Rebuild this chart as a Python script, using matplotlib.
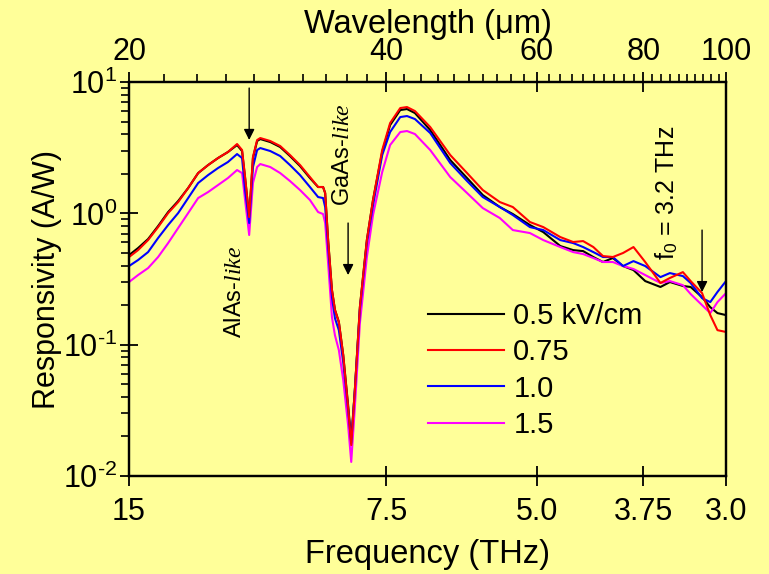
import matplotlib
matplotlib.use("Agg")
import matplotlib.pyplot as plt
from matplotlib.ticker import FixedLocator, FixedFormatter, NullLocator, NullFormatter, LogLocator

plt.rcParams['font.family'] = ['Liberation Sans', 'DejaVu Sans']
plt.rcParams['mathtext.fontset'] = 'custom'
plt.rcParams['mathtext.rm'] = 'Liberation Sans'
plt.rcParams['mathtext.it'] = 'Liberation Serif:italic'
plt.rcParams['mathtext.bf'] = 'Liberation Sans:bold'

# ---------------- Daten ----------------
freq = [15.0, 14.64, 14.25, 13.87, 13.50, 13.14, 12.79, 12.45, 12.12, 11.80,
        11.49, 11.21, 11.06, 10.97, 10.85, 10.74, 10.62, 10.53, 10.25, 9.98,
        9.72, 9.46, 9.21, 9.01, 8.89, 8.84, 8.77, 8.68, 8.61, 8.52,
        8.42, 8.31, 8.24, 8.16, 8.05, 7.90, 7.77, 7.58, 7.42, 7.22,
        7.09, 6.94, 6.66, 6.31, 6.03, 5.78, 5.52, 5.33, 5.09, 4.91,
        4.69, 4.53, 4.41, 4.29, 4.18, 4.07, 3.96, 3.85, 3.73, 3.58,
        3.49, 3.37, 3.30, 3.20, 3.13, 3.07, 3.00]

# 0.5 kV/cm
resp_05 = [0.481, 0.544, 0.637, 0.800, 1.023, 1.241, 1.559, 2.027, 2.333, 2.638,
           2.930, 3.313, 2.982, 1.857, 0.937, 2.638, 3.554, 3.680, 3.492, 3.199,
           2.732, 2.292, 1.857, 1.587, 1.587, 1.428, 0.626, 0.261, 0.184, 0.149,
           0.0833, 0.0347, 0.0188, 0.0451, 0.193, 0.626, 1.263, 2.930, 4.704, 6.119,
           6.227, 5.805, 4.310, 2.547, 1.857, 1.379, 1.117, 0.988, 0.815, 0.720,
           0.564, 0.525, 0.516, 0.465, 0.426, 0.457, 0.397, 0.370, 0.305, 0.275,
           0.300, 0.280, 0.275, 0.230, 0.193, 0.174, 0.168]
# 0.75 kV/cm
resp_075 = [0.465, 0.525, 0.626, 0.786, 1.005, 1.219, 1.559, 2.027, 2.333, 2.638,
            2.930, 3.372, 3.035, 1.890, 0.937, 2.684, 3.617, 3.746, 3.554, 3.256,
            2.780, 2.333, 1.890, 1.587, 1.587, 1.428, 0.626, 0.261, 0.184, 0.149,
            0.0833, 0.0335, 0.0172, 0.0451, 0.193, 0.626, 1.263, 3.035, 4.872, 6.337,
            6.449, 6.013, 4.542, 2.780, 2.027, 1.505, 1.219, 1.117, 0.859, 0.786,
            0.660, 0.605, 0.615, 0.554, 0.473, 0.465, 0.499, 0.554, 0.426, 0.295,
            0.322, 0.357, 0.305, 0.247, 0.168, 0.129, 0.125]
# 1.0 kV/cm
resp_10 = [0.397, 0.441, 0.507, 0.649, 0.815, 1.005, 1.308, 1.702, 1.957, 2.214,
           2.459, 2.829, 2.638, 1.505, 0.844, 2.253, 3.035, 3.143, 2.982, 2.732,
           2.333, 1.957, 1.587, 1.331, 1.308, 1.117, 0.554, 0.230, 0.159, 0.129,
           0.0737, 0.0318, 0.0178, 0.0451, 0.184, 0.594, 1.157, 2.780, 4.161, 5.412,
           5.508, 5.226, 4.089, 2.416, 1.763, 1.331, 1.117, 0.971, 0.786, 0.746,
           0.626, 0.594, 0.554, 0.507, 0.465, 0.465, 0.397, 0.433, 0.397, 0.327,
           0.351, 0.333, 0.295, 0.226, 0.211, 0.252, 0.305]
# 1.5 kV/cm
resp_15 = [0.300, 0.339, 0.383, 0.465, 0.594, 0.773, 1.005, 1.308, 1.453, 1.643,
           1.857, 2.137, 2.027, 1.263, 0.684, 1.702, 2.253, 2.374, 2.253, 2.027,
           1.763, 1.505, 1.263, 1.023, 0.988, 0.844, 0.418, 0.162, 0.118, 0.091,
           0.0538, 0.0244, 0.0128, 0.0335, 0.146, 0.465, 0.971, 2.063, 3.313, 4.161,
           4.235, 4.017, 3.035, 1.890, 1.428, 1.097, 0.921, 0.746, 0.708, 0.626,
           0.554, 0.507, 0.490, 0.457, 0.426, 0.426, 0.397, 0.377, 0.339, 0.295,
           0.305, 0.284, 0.243, 0.200, 0.174, 0.211, 0.247]

f_ticks = [15, 7.5, 5.0, 3.75, 3.0]
f_labels = ["15", "7.5", "5.0", "3.75", "3.0"]
wl_ticks = [20, 40, 60, 80, 100]
wl_minor = [w for w in range(22, 100, 2) if w not in wl_ticks]
y_ticks = [1e-2, 1e-1, 1e0, 1e1]
y_labels = [r"$\mathdefault{10^{\text{-}2}}$", r"$\mathdefault{10^{\text{-}1}}$",
            r"$\mathdefault{10^{0}}$", r"$\mathdefault{10^{1}}$"]

bg = '#ffff99'
fs = 22
fs_x = 23.5

fig = plt.figure(figsize=(7.69, 5.74), dpi=100, facecolor=bg)
ax = fig.add_axes([0.1678, 0.1707, 0.7763, 0.6864], facecolor=bg)

l05, = ax.plot(freq, resp_05, color='black', lw=1.5)
l15, = ax.plot(freq, resp_15, color='#ff00ff', lw=1.5)
l10, = ax.plot(freq, resp_10, color='#0000ff', lw=1.5)
l075, = ax.plot(freq, resp_075, color='#ff0000', lw=1.5)

ax.set_xscale('log')
ax.set_yscale('log')
ax.set_xlim(15, 3)
ax.set_ylim(1e-2, 1e1)

ax.xaxis.set_major_locator(FixedLocator(f_ticks))
ax.xaxis.set_major_formatter(FixedFormatter(f_labels))
ax.xaxis.set_minor_locator(NullLocator())
ax.yaxis.set_major_locator(FixedLocator(y_ticks))
ax.yaxis.set_major_formatter(FixedFormatter(y_labels))
ax.yaxis.set_minor_locator(LogLocator(base=10, subs=range(2, 10), numticks=10))
ax.yaxis.set_minor_formatter(NullFormatter())

ax.tick_params(axis='x', which='major', direction='inout', length=14, width=1.3, pad=8, labelsize=fs)
ax.tick_params(axis='y', which='major', direction='inout', length=13, width=1.3, pad=2, labelsize=fs)
ax.tick_params(axis='y', which='minor', direction='out', length=6, width=1.2)
for s in ax.spines.values():
    s.set_linewidth(1.6)

ax.set_xlabel("Frequency (THz)", fontsize=fs_x, labelpad=9)
ax.set_ylabel("Responsivity (A/W)", fontsize=fs, labelpad=1)

# obere Achse: Wellenlaenge
ax2 = ax.twiny()
ax2.set_xscale('log')
ax2.set_xlim(20, 100)
ax2.xaxis.set_major_locator(FixedLocator(wl_ticks))
ax2.xaxis.set_major_formatter(FixedFormatter([str(w) for w in wl_ticks]))
ax2.xaxis.set_minor_locator(FixedLocator(wl_minor))
ax2.xaxis.set_minor_formatter(NullFormatter())
ax2.tick_params(axis='x', which='major', direction='inout', length=14, width=1.3, pad=4, labelsize=fs)
ax2.tick_params(axis='x', which='minor', direction='out', length=6, width=1.2)
ax2.set_xlabel("Wavelength (\u03bcm)", fontsize=fs_x, labelpad=3)
for s in ax2.spines.values():
    s.set_linewidth(1.6)

# Annotationen
arw = dict(arrowstyle='-|>', color='black', lw=1.0, mutation_scale=16, shrinkA=0, shrinkB=0)
ax.annotate('', xy=(10.85, 3.62), xytext=(10.85, 9.0), arrowprops=arw)
ax.text(11.27, 0.2515, r"AlAs-$\mathit{like}$", rotation=90, ha='center', va='center', fontsize=17)
ax.text(8.42, 2.78, r"GaAs-$\mathit{like}$", rotation=90, ha='center', va='center', fontsize=17)
ax.annotate('', xy=(8.31, 0.339), xytext=(8.31, 0.844), arrowprops=arw)
ax.text(3.52, 1.43, r"f$_0$ = 3.2 THz", rotation=90, ha='center', va='center', fontsize=18)
ax.annotate('', xy=(3.2, 0.2515), xytext=(3.2, 0.746), arrowprops=arw)

ax.legend([l05, l075, l10, l15], ["0.5 kV/cm", "0.75", "1.0", "1.5"],
          loc='upper left', bbox_to_anchor=(0.501, 0.441), frameon=False,
          fontsize=21, handlelength=2.6, handletextpad=0.32, labelspacing=0.28,
          borderpad=0, borderaxespad=0)

fig.savefig("out.png", dpi=100, facecolor=bg)
